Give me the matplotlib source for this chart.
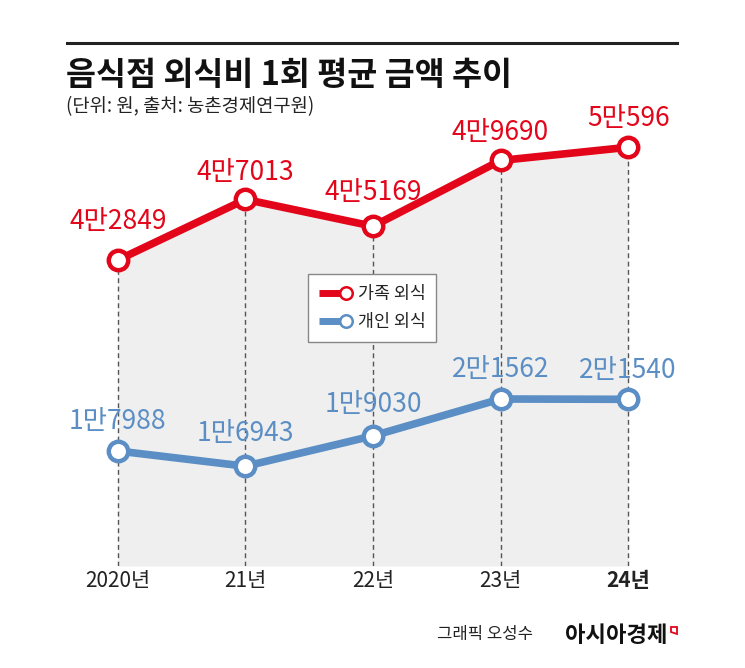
import matplotlib
matplotlib.use("Agg")
import matplotlib.pyplot as plt
from matplotlib.lines import Line2D
from matplotlib.patches import Polygon
from matplotlib.legend_handler import HandlerBase

plt.rcParams['font.family'] = ['Noto Sans CJK KR', 'DejaVu Sans']

# ---- data ----
years = ["2020년", "21년", "22년", "23년", "24년"]
family = [42849, 47013, 45169, 49690, 50596]
single = [17988, 16943, 19030, 21562, 21540]
family_labels = ["4만2849", "4만7013", "4만5169", "4만9690", "5만596"]
single_labels = ["1만7988", "1만6943", "1만9030", "2만1562", "2만1540"]
series_names = ["가족 외식", "개인 외식"]

title = "음식점 외식비 1회 평균 금액 추이"
subtitle = "(단위: 원, 출처: 농촌경제연구원)"
credit = "그래픽 오성수"
brand = "아시아경제"

RED = "#e3051a"
BLUE = "#5b8ec4"
FILL = "#efefef"

W, H = 745, 668
fig = plt.figure(figsize=(W / 100, H / 100), dpi=100)
fig.patch.set_facecolor("white")

# axes placement (pixels)
ax_left, ax_right, ax_top, ax_bottom = 86, 660, 120, 566
ax = fig.add_axes([ax_left / W, 1 - ax_bottom / H, (ax_right - ax_left) / W, (ax_bottom - ax_top) / H])
ax2 = ax.twinx()

x = list(range(len(years)))
ax.set_xlim(-0.25, len(years) - 0.75)
ax.set_ylim(21818, 52471)
ax2.set_ylim(10084, 40737)

ybot = ax.get_ylim()[0]
ax.fill_between(x, family, ybot, color=FILL, lw=0, zorder=1)
ax.vlines(x, ybot, family, colors="#555555", lw=1.0, linestyles=(0, (3.5, 2.5)), zorder=2)
ax.plot(x, family, color=RED, lw=5.5, marker="o", ms=14, mfc="white", mec=RED, mew=3.2,
        solid_capstyle="round", zorder=3)
ax2.plot(x, single, color=BLUE, lw=5.5, marker="o", ms=14, mfc="white", mec=BLUE, mew=3.2,
         solid_capstyle="round", zorder=3)

fam_off = [38, 27, 34, 28, 29]
sin_off = [29, 33, 31, 29, 29]
for xi, v, lab, o in zip(x, family, family_labels, fam_off):
    ax.annotate(lab, (xi, v), xytext=(0, o), textcoords="offset pixels", ha="center", va="center",
                color=RED, fontsize=19, zorder=5)
for xi, v, lab, o in zip(x, single, single_labels, sin_off):
    ax2.annotate(lab, (xi, v), xytext=(0, o), textcoords="offset pixels", ha="center", va="center",
                 color=BLUE, fontsize=19, zorder=5)

for a in (ax, ax2):
    for s in a.spines.values():
        s.set_visible(False)
    a.set_yticks([])
ax.set_xticks(x)
ax.set_xticklabels(years, fontsize=15, color="#222222")
ax.tick_params(axis="x", length=0, pad=3)
ax.get_xticklabels()[-1].set_fontweight("bold")

# legend with line + end marker
class LineEndMarker(HandlerBase):
    def create_artists(self, legend, orig_handle, xdescent, ydescent, width, height, fontsize, trans):
        c = orig_handle.get_color()
        y = height / 2 - ydescent
        x0 = -xdescent
        l = Line2D([x0, x0 + width * 0.78], [y, y], color=c, lw=5, solid_capstyle="butt", transform=trans)
        m = Line2D([x0 + width * 0.82], [y], marker="o", ms=9, mfc="white", mec=c, mew=1.8,
                   ls="none", transform=trans)
        return [l, m]

handles = [Line2D([], [], color=RED), Line2D([], [], color=BLUE)]
leg = fig.legend(handles, series_names, loc="upper left", bbox_to_anchor=(308 / W, 1 - 274 / H),
                 borderaxespad=0, frameon=True, fancybox=False, framealpha=1, edgecolor="#888888",
                 fontsize=12.5, handlelength=1.9, handletextpad=0.35, labelspacing=0.6, borderpad=0.62,
                 handler_map={Line2D: LineEndMarker()})
leg.get_frame().set_linewidth(1.0)
for t in leg.get_texts():
    t.set_color("#222222")

# header
fig.add_artist(Line2D([67 / W, 677 / W], [1 - 43 / H, 1 - 43 / H], color="#222222", lw=2.2))
fig.text(66 / W, 1 - 76 / H, title, fontsize=23.5, fontweight="bold", ha="left", va="center", color="#111111")
fig.text(66 / W, 1 - 107 / H, subtitle, fontsize=13.5, ha="left", va="center", color="#222222")

# footer
fig.text(667 / W, 1 - 635 / H, brand, fontsize=16, fontweight="bold", ha="right", va="center", color="#111111")
fig.text(533 / W, 1 - 635 / H, credit, fontsize=12, ha="right", va="center", color="#222222")
mark = Polygon([[671 / W, 1 - 627 / H], [677 / W, 1 - 627 / H], [677 / W, 1 - 634 / H], [671 / W, 1 - 632 / H]],
               closed=True, fill=False, edgecolor=RED, lw=1.3, transform=fig.transFigure)
fig.add_artist(mark)

fig.savefig("out.png", dpi=100)
